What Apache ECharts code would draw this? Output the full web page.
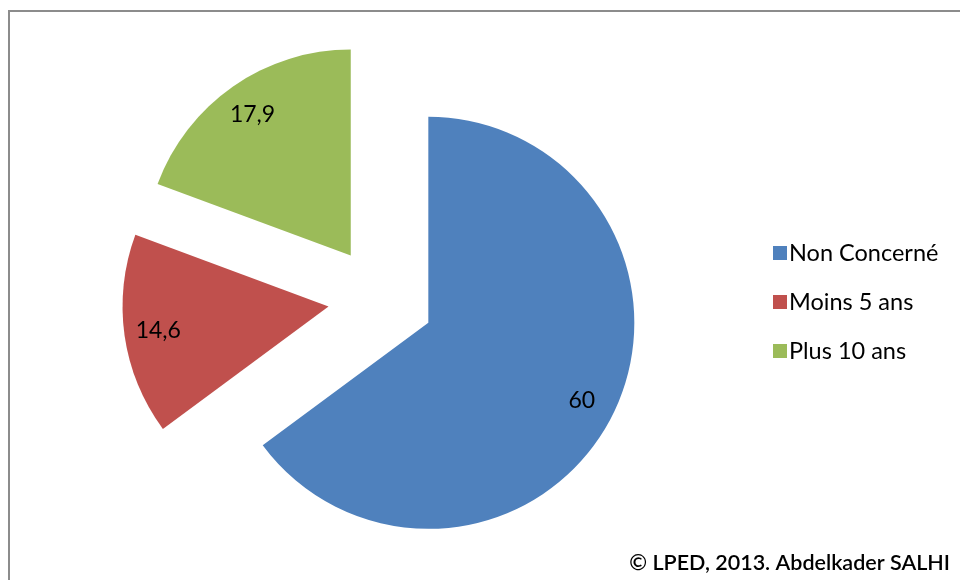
<!DOCTYPE html>
<html>
<head>
<meta charset="utf-8">
<script src="https://cdn.jsdelivr.net/npm/echarts@6/dist/echarts.min.js"></script>
<style>
  html, body { margin: 0; padding: 0; background: #ffffff; }
  #chart { width: 960px; height: 580px; }
</style>
</head>
<body>
<div id="chart"></div>
<script>
// Répartition des enquêtés selon l'ancienneté (%)
const categories = ['Non Concerné', 'Moins 5 ans', 'Plus 10 ans'];
const values = [60, 14.6, 17.9];
const colors = ['#4F81BD', '#C0504D', '#9BBB59'];
const credit = '© LPED, 2013. Abdelkader SALHI';

const FONT = 'Lato';
const CENTER = [381, 299];
const RADIUS = 206;
const EXPLODE = 53;

const sliceData = categories.map((name, i) => ({
  name: name,
  value: values[i],
  selected: true,
  itemStyle: { color: colors[i] }
}));

// Transparent twin pie used only to place the value labels further out along each bisector
const labelData = categories.map((name, i) => ({
  name: name,
  value: values[i],
  selected: true,
  itemStyle: { color: 'rgba(0,0,0,0)' }
}));

const chart = echarts.init(document.getElementById('chart'), null, { renderer: 'canvas' });

chart.setOption({
  backgroundColor: '#ffffff',
  animation: false,
  graphic: [
    {
      type: 'rect',
      shape: { x: 9, y: 11, width: 980, height: 600 },
      style: { fill: 'none', stroke: '#8c8c8c', lineWidth: 2 },
      silent: true,
      z: 0
    },
    {
      type: 'text',
      right: 10,
      top: 552,
      style: {
        text: credit,
        fill: '#000000',
        font: '600 21.5px ' + FONT
      },
      silent: true
    }
  ],
  legend: {
    orient: 'vertical',
    left: 768,
    top: 236,
    itemWidth: 14,
    itemHeight: 14,
    itemGap: 25,
    icon: 'rect',
    selectedMode: false,
    textStyle: { fontFamily: FONT, fontSize: 23.5, color: '#000000', padding: [0, 0, 0, -3] },
    data: categories.map((name, i) => ({ name: name, itemStyle: { color: colors[i] } }))
  },
  series: [
    {
      type: 'pie',
      center: CENTER,
      radius: [0, RADIUS],
      startAngle: 90,
      clockwise: true,
      selectedMode: 'multiple',
      selectedOffset: EXPLODE,
      silent: true,
      label: { show: false },
      labelLine: { show: false },
      emphasis: { disabled: true },
      data: sliceData
    },
    {
      type: 'pie',
      center: CENTER,
      radius: [0, RADIUS * 1.64],
      startAngle: 90,
      clockwise: true,
      selectedMode: 'multiple',
      selectedOffset: EXPLODE,
      silent: true,
      z: 3,
      label: {
        show: true,
        position: 'inside',
        fontFamily: FONT,
        fontSize: 23,
        color: '#000000',
        formatter: p => String(p.value).replace('.', ',')
      },
      labelLine: { show: false },
      emphasis: { disabled: true },
      select: { itemStyle: { color: 'rgba(0,0,0,0)' } },
      data: labelData
    }
  ]
});
</script>
</body>
</html>
